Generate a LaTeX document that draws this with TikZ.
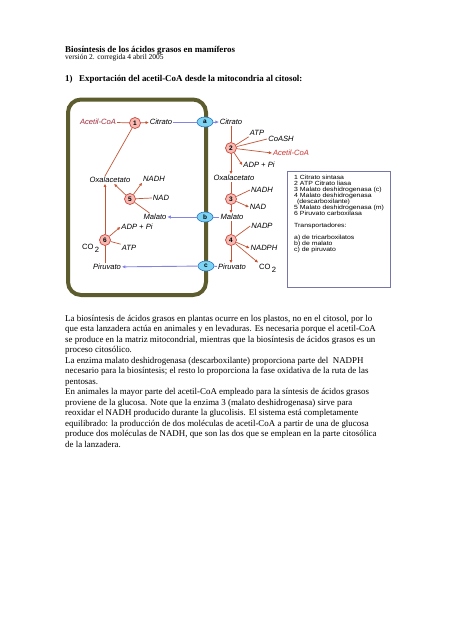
\documentclass[tikz,border=0pt]{standalone}
\usepackage{fontspec}
\setmainfont{Liberation Serif}
\setsansfont{Liberation Sans}
\usepackage{graphicx}
\usetikzlibrary{
	arrows.meta,
	shapes.geometric,
	positioning
}
\definecolor{RxnArrow}{RGB}{196,86,54}
\definecolor{RxnFill}{RGB}{246,186,178}
\definecolor{RxnLine}{RGB}{206,70,62}
\definecolor{PortArrow}{RGB}{132,132,226}
\definecolor{PortFill}{RGB}{124,212,242}
\definecolor{PortLine}{RGB}{40,112,192}
\definecolor{Membrane}{RGB}{92,92,46}
\definecolor{AcMito}{RGB}{158,42,58}
\definecolor{AcCyto}{RGB}{204,50,46}
\definecolor{KeyFrame}{RGB}{118,118,168}

\begin{document}
\begin{tikzpicture}[x=1pt, y=-1pt,
		body/.style={anchor=base west, inner sep=0pt, font=\fontsize{8.9}{10.5}\selectfont},
		met/.style={inner sep=1pt, font=\fontsize{7.6}{8}\selectfont\sffamily\itshape},
		gas/.style={anchor=base west, inner sep=1pt, font=\fontsize{7.6}{8}\selectfont\sffamily},
		enz/.style={circle, draw=RxnLine, fill=RxnFill, line width=0.7pt, minimum size=11pt, inner sep=0pt, font=\fontsize{6.5}{7}\selectfont\sffamily\bfseries},
		port/.style={ellipse, draw=PortLine, fill=PortFill, line width=0.6pt, minimum width=16pt, minimum height=10pt, inner sep=0pt, font=\fontsize{6.5}{7}\selectfont\sffamily\bfseries},
		rx/.style={draw=RxnArrow, line width=0.7pt},
		rxa/.style={rx, -{Triangle[length=3pt, width=2.6pt]}},
		tp/.style={draw=PortArrow, line width=0.9pt},
		tpa/.style={tp, -{Triangle[length=3.2pt, width=2.8pt]}}
	]
	\fill[white] (0,0) rectangle (452,640);
	\useasboundingbox (0,0) rectangle (452,640);

	% encabezado
	\node[body, font=\fontsize{8.9}{10}\selectfont\bfseries] (title) at (65,52) {Biosíntesis de los ácidos grasos en mamíferos};
	\node[body, font=\fontsize{7.5}{9}\selectfont] (version) at (65,59.5) {versión 2. corregida 4 abril 2005};
	\node[body, font=\fontsize{8.9}{10}\selectfont\bfseries] (section) at (65,81) {1)\hspace{6.6pt}Exportación del acetil-CoA desde la mitocondria al citosol:};

	% membrana mitocondrial
	\draw[Membrane, line width=4pt, rounded corners=13pt] (68,99.5) rectangle (206,295);

	% metabolitos, mitocondria
	\node[met, text=AcMito] (AcL) at (98,122) {Acetil-CoA};
	\node[met] (CitL) at (161,122) {Citrato};
	\node[met] (OxL) at (110,180) {Oxalacetato};
	\node[met] (NADHL) at (154,179) {NADH};
	\node[met] (NADL) at (161,198) {NAD};
	\node[met] (MalL) at (155,217) {Malato};
	\node[met] (ADPL) at (137,227) {ADP + Pi};
	\node[gas] (CO2L) at (81,249) {CO\raisebox{-3.5pt}{\,2}};
	\node[met] (ATPL) at (129,248) {ATP};
	\node[met] (PirL) at (107,267) {Piruvato};

	% metabolitos, citosol
	\node[met] (CitR) at (231,122) {Citrato};
	\node[met] (ATPR) at (257,133) {ATP};
	\node[met] (CoASH) at (281,139) {CoASH};
	\node[met, text=AcCyto] (AcR) at (291,153) {Acetil-CoA};
	\node[met] (ADPR) at (259,165) {ADP + Pi};
	\node[met] (OxR) at (234,178) {Oxalacetato};
	\node[met] (NADHR) at (262,190) {NADH};
	\node[met] (NADR) at (258,207) {NAD};
	\node[met] (MalR) at (232,217) {Malato};
	\node[met] (NADPR) at (262,226) {NADP};
	\node[met] (NADPHR) at (264,248) {NADPH};
	\node[met] (PirR) at (232,267) {Piruvato};
	\node[gas] (CO2R) at (258,269) {CO\raisebox{-3.5pt}{\,2}};

	% enzimas y transportadores
	\node[enz] (R1) at (135,123) {1};
	\node[enz] (R2) at (231,148) {2};
	\node[enz] (R3) at (231,199) {3};
	\node[enz] (R4) at (231,240) {4};
	\node[enz] (R5) at (130,199) {5};
	\node[enz] (R6) at (105,240) {6};
	\node[port] (Ta) at (205,122) {a};
	\node[port] (Tb) at (205,217) {b};
	\node[port] (Tc) at (206,266) {c};

	% reacciones en la mitocondria
	\draw[rx] (AcL) -- (R1);
	\draw[rxa] (R1) -- (CitL);
	\draw[rx] (OxL.north -| R6) -- (R1);
	\draw[rx] (MalL) -- (R5);
	\draw[rxa] (R5) -- (OxL);
	\draw[rx] (NADL.west) -- (R5);
	\draw[rxa] (R5) -- (NADHL.south west);
	\draw[rx] (PirL.north -| R6) -- (R6);
	\draw[rxa] (R6) -- (R6 |- OxL.south);
	\draw[rxa] (R6) -- (ADPL.west);
	\draw[rx] (ATPL.north west) -- (R6);
	\draw[rx] (CO2L.north east) -- (R6);

	% reacciones en el citosol
	\draw[rx] (R2 |- CitR.south) -- (R2);
	\draw[rxa] (R2) -- (R2 |- OxR.north);
	\draw[rx] (R2) -- (ATPR.south west);
	\draw[rx] (R2) -- (CoASH.west);
	\draw[rxa] (R2) -- (AcR.west);
	\draw[rxa] (R2) -- (ADPR.west);
	\draw[rx] (R3 |- OxR.south) -- (R3);
	\draw[rxa] (R3) -- (R3 |- MalR.north);
	\draw[rx] (R3) -- (NADHR.west);
	\draw[rxa] (R3) -- (NADR.west);
	\draw[rx] (R4 |- MalR.south) -- (R4);
	\draw[rxa] (R4) -- (R4 |- PirR.north);
	\draw[rx] (R4) -- (NADPR.west);
	\draw[rxa] (R4) -- (NADPHR.west);
	\draw[rxa] (R4) -- (CO2R.north west);

	% transporte
	\draw[tp] (CitL) -- (Ta);
	\draw[tpa] (Ta) -- (CitR);
	\draw[tp] (MalR) -- (Tb);
	\draw[tpa] (Tb) -- (MalL);
	\draw[tp] (PirR) -- (Tc);
	\draw[tpa] (Tc) -- (PirL);

	% leyenda
	\draw[KeyFrame, line width=0.6pt] (287,171) rectangle (390,287);
	\node[anchor=north west, inner sep=0pt, font=\fontsize{6}{5.75}\selectfont\sffamily] (key) at (294,175) {\scalebox{1.15}[1]{\begin{tabular}{@{}l@{}}
		1 Citrato sintasa\\
		2 ATP Citrato liasa\\
		3 Malato deshidrogenasa (c)\\
		4 Malato deshidrogenasa\\
		\hspace{2.5pt}(descarboxilante)\\
		5 Malato deshidrogenasa (m)\\
		6 Piruvato carboxilasa\\[5.75pt]
		Transportadores:\\[5.75pt]
		a) de tricarboxilatos\\
		b) de malato\\
		c) de piruvato
	\end{tabular}}};

	% texto
	\foreach \txt [count=\i] in {
		{La biosíntesis de ácidos grasos en plantas ocurre en los plastos, no en el citosol, por lo},
		{que esta lanzadera actúa en animales y en levaduras. Es necesaria porque el acetil-CoA},
		{se produce en la matriz mitocondrial, mientras que la biosíntesis de ácidos grasos es un},
		{proceso citosólico.},
		{La enzima malato deshidrogenasa (descarboxilante) proporciona parte del\ \ NADPH},
		{necesario para la biosíntesis; el resto lo proporciona la fase oxidativa de la ruta de las},
		{pentosas.},
		{En animales la mayor parte del acetil-CoA empleado para la síntesis de ácidos grasos},
		{proviene de la glucosa. Note que la enzima 3 (malato deshidrogenasa) sirve para},
		{reoxidar el NADH producido durante la glucolisis. El sistema está completamente},
		{equilibrado: la producción de dos moléculas de acetil-CoA a partir de una de glucosa},
		{produce dos moléculas de NADH, que son las dos que se emplean en la parte citosólica},
		{de la lanzadera.}
	}{
		\node[body] (line\i) at (65,310.5+10.5*\i) {\txt};
	}
\end{tikzpicture}
\end{document}
